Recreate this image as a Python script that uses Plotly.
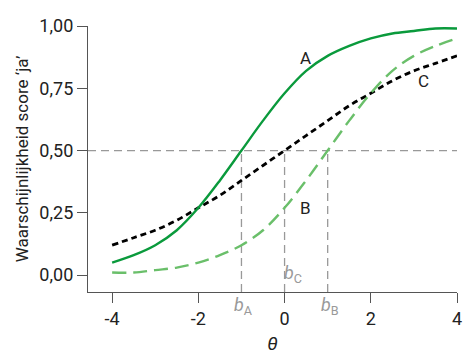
import plotly.graph_objects as go

theta = [-4, -3.5, -3, -2.5, -2, -1.5, -1, -0.5, 0, 0.5, 1, 1.5, 2, 2.5, 3, 3.5, 4]
curve_a = [0.05, 0.08, 0.12, 0.18, 0.27, 0.38, 0.50, 0.62, 0.73, 0.82, 0.88, 0.92, 0.95, 0.97, 0.98, 0.99, 0.99]
curve_b = [0.01, 0.01, 0.02, 0.03, 0.05, 0.08, 0.12, 0.18, 0.27, 0.38, 0.50, 0.62, 0.73, 0.82, 0.88, 0.92, 0.95]
curve_c = [0.12, 0.15, 0.18, 0.22, 0.27, 0.32, 0.38, 0.44, 0.50, 0.56, 0.62, 0.68, 0.73, 0.78, 0.82, 0.85, 0.88]

b_names = ["A", "B", "C"]
b_values = [-1, 1, 0]
p_half = 0.5

x_ticks = [-4, -2, 0, 2, 4]
x_ticktext = ["-4", "-2", "0", "2", "4"]
y_ticks = [0, 0.25, 0.5, 0.75, 1.0]
y_ticktext = ["0,00", "0,25", "0,50", "0,75", "1,00"]

FONT = "Roboto"
GREEN = "#0a9a3c"
LIGHT = "#6abf6a"
GREY = "#999999"
TXT = "#222222"

xr = [-4.56, 4]
yr = [-0.068, 1.0]

fig = go.Figure()

# reference lines
fig.add_shape(type="line", xref="paper", yref="y", x0=0, x1=1, y0=p_half, y1=p_half,
              line=dict(color=GREY, width=1.3, dash="8px,5px"), layer="below")
for bv in b_values:
    fig.add_shape(type="line", xref="x", yref="y", x0=bv, x1=bv, y0=yr[0], y1=p_half,
                  line=dict(color=GREY, width=1.3, dash="8px,5px"), layer="below")

fig.add_trace(go.Scatter(x=theta, y=curve_c, mode="lines", line=dict(color="#000000", width=2.8, dash="6px,4px", shape="spline"), showlegend=False))
fig.add_trace(go.Scatter(x=theta, y=curve_b, mode="lines", line=dict(color=LIGHT, width=2.4, dash="14px,7px", shape="spline"), showlegend=False))
fig.add_trace(go.Scatter(x=theta, y=curve_a, mode="lines", line=dict(color=GREEN, width=2.4, shape="spline"), showlegend=False))

# curve labels
for txt, x, y in [("A", 0.49, 0.87), ("B", 0.49, 0.27), ("C", 3.23, 0.78)]:
    fig.add_annotation(x=x, y=y, text=txt, showarrow=False, font=dict(family=FONT, size=17, color=TXT))

# b labels
b_label_pos = {"A": (-0.95, "paper", -0.105), "B": (1.05, "paper", -0.105), "C": (0.2, "y", 0.005)}
for name in b_names:
    x, yref, y = b_label_pos[name]
    fig.add_annotation(x=x, xref="x", y=y, yref=yref, text=f"<i>b</i><sub>{name}</sub>", showarrow=False,
                       font=dict(family=FONT, size=18, color=GREY))

fig.update_layout(
    width=473, height=363,
    margin=dict(l=88, r=16, t=26, b=71),
    plot_bgcolor="white", paper_bgcolor="white",
    font=dict(family=FONT, size=18, color=TXT),
)
fig.update_xaxes(range=xr, tickvals=x_ticks, ticktext=x_ticktext, showgrid=False, zeroline=False,
                 showline=True, linecolor="#555555", linewidth=1.3, ticks="outside", ticklen=10,
                 tickcolor="#555555", tickwidth=1.3,
                 title=dict(text="<i>θ</i>", font=dict(family=FONT, size=19, color=TXT), standoff=8))
fig.update_yaxes(range=yr, tickvals=y_ticks, ticktext=y_ticktext, showgrid=False, zeroline=False,
                 showline=True, linecolor="#555555", linewidth=1.3, ticks="outside", ticklen=10,
                 tickcolor="#555555", tickwidth=1.3,
                 title=dict(text="Waarschijnlijkheid score ‘ja’", font=dict(family=FONT, size=17, color=TXT), standoff=6))

fig.write_html("out.html", config={"displayModeBar": False}, post_script="document.body.style.margin='0';")
